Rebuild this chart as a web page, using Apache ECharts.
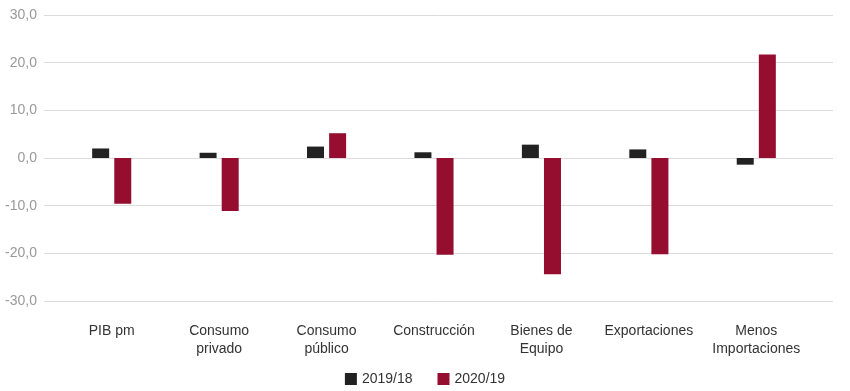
<!DOCTYPE html>
<html>
<head>
<meta charset="utf-8">
<script src="https://cdn.jsdelivr.net/npm/echarts@6/dist/echarts.min.js"></script>
<style>html,body{margin:0;padding:0;background:#fff;}#c{width:850px;height:391px;}</style>
</head>
<body>
<div id="c"></div>
<script>
var categories = ['PIB pm', 'Consumo\nprivado', 'Consumo\npúblico', 'Construcción', 'Bienes de\nEquipo', 'Exportaciones', 'Menos\nImportaciones'];
var seriesNames = ['2019/18', '2020/19'];
var values2019 = [2.0, 1.1, 2.4, 1.2, 2.8, 1.8, -1.4];
var values2020 = [-9.6, -11.1, 5.2, -20.3, -24.4, -20.2, 21.7];
var colors = ['#222222', '#960e2f'];

var chart = echarts.init(document.getElementById('c'), null, {renderer: 'canvas'});
chart.setOption({
  animation: false,
  textStyle: {fontFamily: 'Liberation Sans, Arial, sans-serif'},
  legend: {
    top: 367, left: 'center',
    itemWidth: 12, itemHeight: 12, itemGap: 25,
    icon: 'rect',
    textStyle: {fontSize: 14, color: '#333'},
    data: seriesNames
  },
  grid: [
    {left: 44, right: 17, top: 15, bottom: 90},
    {left: 58, right: 40, top: 15, bottom: 90}
  ],
  xAxis: [
    {gridIndex: 0, type: 'category', data: categories, show: false},
    {gridIndex: 1, type: 'category', data: categories,
      axisLine: {show: false}, axisTick: {show: false},
      axisLabel: {margin: 21, fontSize: 14, lineHeight: 18, color: '#333', interval: 0}}
  ],
  yAxis: [
    {gridIndex: 0, type: 'value', min: -30, max: 30, interval: 10,
      axisLabel: {fontSize: 14, color: '#999', margin: 7,
        formatter: function (v) { return v.toFixed(1).replace('.', ','); }},
      splitLine: {lineStyle: {color: '#dcdcdc', width: 1}},
      axisLine: {show: false}, axisTick: {show: false}},
    {gridIndex: 1, type: 'value', min: -30, max: 30, interval: 10, show: false,
      splitLine: {show: false}}
  ],
  series: [
    {name: seriesNames[0], type: 'bar', xAxisIndex: 1, yAxisIndex: 1, data: values2019,
      barWidth: 17, barGap: '30%', itemStyle: {color: colors[0]}},
    {name: seriesNames[1], type: 'bar', xAxisIndex: 1, yAxisIndex: 1, data: values2020,
      barWidth: 17, barGap: '30%', itemStyle: {color: colors[1]}}
  ]
});
</script>
</body>
</html>
